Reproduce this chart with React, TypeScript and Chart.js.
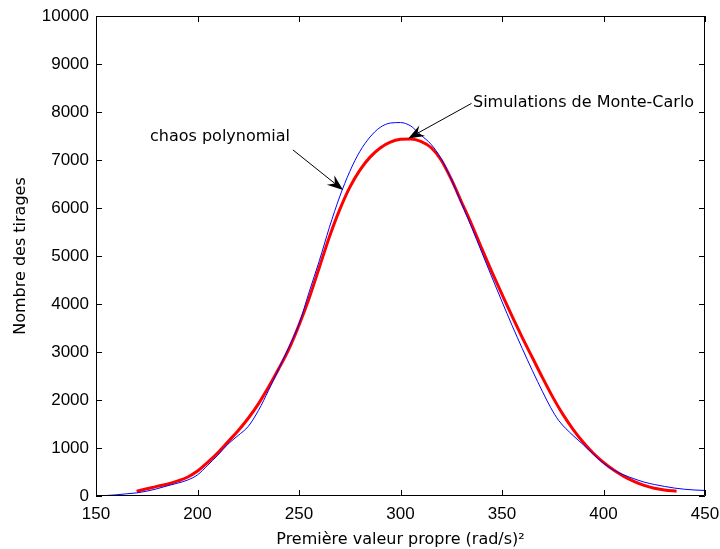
import React, { useEffect, useRef } from "react";
import { Chart, registerables } from "chart.js";

Chart.register(...registerables);

// Monte-Carlo simulations (red, thick)
const mcX = [170, 175, 180, 185, 190, 195, 200, 205, 210, 215, 220, 225, 230, 235, 240, 245, 250, 255, 260, 265, 270, 275, 280, 285, 290, 295, 300, 305, 310, 315, 320, 325, 330, 335, 340, 345, 350, 355, 360, 365, 370, 375, 380, 385, 390, 395, 400, 405, 410, 415, 420, 425, 430, 436];
const mcY = [100, 150, 200, 245, 310, 390, 520, 700, 900, 1130, 1360, 1620, 1920, 2270, 2650, 3060, 3560, 4120, 4760, 5400, 5960, 6430, 6790, 7060, 7250, 7370, 7430, 7440, 7390, 7260, 7000, 6600, 6130, 5660, 5160, 4670, 4200, 3740, 3300, 2880, 2460, 2060, 1700, 1390, 1120, 890, 700, 540, 410, 305, 220, 160, 125, 100];

// Polynomial chaos (blue, thin)
const pcX = [150, 155, 160, 165, 170, 175, 180, 185, 190, 195, 200, 205, 210, 215, 220, 225, 230, 235, 240, 245, 250, 255, 260, 265, 270, 275, 280, 285, 290, 295, 300, 305, 308, 310, 315, 320, 325, 330, 335, 340, 345, 350, 355, 360, 365, 370, 374, 378, 385, 390, 395, 400, 405, 410, 415, 420, 425, 430, 435, 440, 445, 450];
const pcY = [0, 10, 25, 45, 65, 100, 150, 210, 265, 330, 440, 640, 850, 1080, 1260, 1450, 1780, 2200, 2650, 3100, 3580, 4250, 4900, 5600, 6230, 6760, 7180, 7480, 7680, 7770, 7780, 7710, 7600, 7520, 7330, 7030, 6600, 6100, 5600, 5080, 4560, 4050, 3550, 3070, 2610, 2170, 1840, 1570, 1260, 1070, 870, 680, 540, 440, 360, 290, 240, 200, 165, 140, 125, 115];

const xTicks = [150, 200, 250, 300, 350, 400, 450];
const yTicks = [0, 1000, 2000, 3000, 4000, 5000, 6000, 7000, 8000, 9000, 10000];

const TICK_FONT = "'Liberation Sans', Arial, sans-serif";
const TEXT_FONT = "'DejaVu Sans', sans-serif";

const annotations = [
  { text: "chaos polynomial", tx: 176.6, ty: 7480, ax: 247, ay: 7210, bx: 271.7, by: 6375 },
  { text: "Simulations de Monte-Carlo", tx: 335.7, ty: 8190, ax: 335, ay: 8180, bx: 303.8, by: 7450 },
];

const framePlugin = {
  id: "frame",
  afterDatasetsDraw(chart: any) {
    const ctx = chart.ctx;
    const { left, right, top, bottom } = chart.chartArea;
    const xs = chart.scales.x;
    const ys = chart.scales.y;
    ctx.save();
    ctx.strokeStyle = "#000";
    ctx.lineWidth = 1;
    ctx.beginPath();
    ctx.rect(left + 0.5, top + 0.5, right - left - 1, bottom - top - 1);
    ctx.stroke();
    const tl = 6;
    ctx.beginPath();
    xTicks.forEach((v) => {
      const px = Math.round(xs.getPixelForValue(v)) + 0.5;
      ctx.moveTo(px, bottom);
      ctx.lineTo(px, bottom - tl);
      ctx.moveTo(px, top);
      ctx.lineTo(px, top + tl);
    });
    yTicks.forEach((v) => {
      const py = Math.round(ys.getPixelForValue(v)) + 0.5;
      ctx.moveTo(left, py);
      ctx.lineTo(left + tl, py);
      ctx.moveTo(right, py);
      ctx.lineTo(right - tl, py);
    });
    ctx.stroke();

    // annotations
    ctx.fillStyle = "#000";
    ctx.font = `16px ${TEXT_FONT}`;
    ctx.textBaseline = "middle";
    ctx.textAlign = "left";
    annotations.forEach((a) => {
      ctx.fillText(a.text, xs.getPixelForValue(a.tx), ys.getPixelForValue(a.ty));
      const x1 = xs.getPixelForValue(a.ax);
      const y1 = ys.getPixelForValue(a.ay);
      const x2 = xs.getPixelForValue(a.bx);
      const y2 = ys.getPixelForValue(a.by);
      const ang = Math.atan2(y2 - y1, x2 - x1);
      const hl = 16;
      const hw = 6;
      ctx.lineWidth = 1;
      ctx.beginPath();
      ctx.moveTo(x1, y1);
      ctx.lineTo(x2 - Math.cos(ang) * hl * 0.6, y2 - Math.sin(ang) * hl * 0.6);
      ctx.stroke();
      const bx = x2 - Math.cos(ang) * hl;
      const by = y2 - Math.sin(ang) * hl;
      const mx = x2 - Math.cos(ang) * hl * 0.65;
      const my = y2 - Math.sin(ang) * hl * 0.65;
      const nx = -Math.sin(ang);
      const ny = Math.cos(ang);
      ctx.beginPath();
      ctx.moveTo(x2, y2);
      ctx.lineTo(bx + nx * hw, by + ny * hw);
      ctx.lineTo(mx, my);
      ctx.lineTo(bx - nx * hw, by - ny * hw);
      ctx.closePath();
      ctx.fill();
    });
    ctx.restore();
  },
};

export default function App() {
  const ref = useRef<HTMLCanvasElement>(null);
  useEffect(() => {
    document.body.style.margin = "0";
    const canvas = ref.current!;
    const chart = new Chart(canvas, {
      type: "scatter",
      data: {
        datasets: [
          {
            label: "Simulations de Monte-Carlo",
            data: mcX.map((x, i) => ({ x, y: mcY[i] })),
            showLine: true,
            borderColor: "#ff0000",
            borderWidth: 3,
            pointRadius: 0,
            cubicInterpolationMode: "monotone",
            order: 2,
          },
          {
            label: "chaos polynomial",
            data: pcX.map((x, i) => ({ x, y: pcY[i] })),
            showLine: true,
            borderColor: "#0000ff",
            borderWidth: 1,
            pointRadius: 0,
            cubicInterpolationMode: "monotone",
            order: 1,
          },
        ],
      },
      options: {
        responsive: false,
        animation: false,
        layout: { padding: { top: 16, right: 15, left: 11, bottom: 0 } },
        plugins: { legend: { display: false }, tooltip: { enabled: false } },
        scales: {
          x: {
            type: "linear",
            min: 150,
            max: 450,
            afterBuildTicks: (s: any) => {
              s.ticks = xTicks.map((v) => ({ value: v }));
            },
            afterFit: (s: any) => {
              s.height = 53;
              s.paddingLeft = 0;
              s.paddingRight = 0;
            },
            grid: { display: false, drawTicks: false },
            border: { display: false },
            ticks: {
              color: "#000",
              padding: 8,
              maxRotation: 0,
              font: { family: TICK_FONT, size: 17 },
              callback: (v: any) => String(v),
            },
            title: {
              display: true,
              text: "Première valeur propre (rad/s)²",
              color: "#000",
              font: { family: TEXT_FONT, size: 16 },
              padding: { top: 3, bottom: 0 },
            },
          },
          y: {
            type: "linear",
            min: 0,
            max: 10000,
            afterBuildTicks: (s: any) => {
              s.ticks = yTicks.map((v) => ({ value: v }));
            },
            afterFit: (s: any) => {
              s.width = 85;
              s.paddingTop = 0;
              s.paddingBottom = 0;
            },
            grid: { display: false, drawTicks: false },
            border: { display: false },
            ticks: {
              color: "#000",
              padding: 7,
              font: { family: TICK_FONT, size: 17 },
              callback: (v: any) => String(v),
            },
            title: {
              display: true,
              text: "Nombre des tirages",
              color: "#000",
              font: { family: TEXT_FONT, size: 16 },
              padding: { top: 0, bottom: 6 },
            },
          },
        },
      },
      plugins: [framePlugin],
    } as any);
    return () => chart.destroy();
  }, []);
  return <canvas ref={ref} width={720} height={549} style={{ display: "block" }} />;
}
